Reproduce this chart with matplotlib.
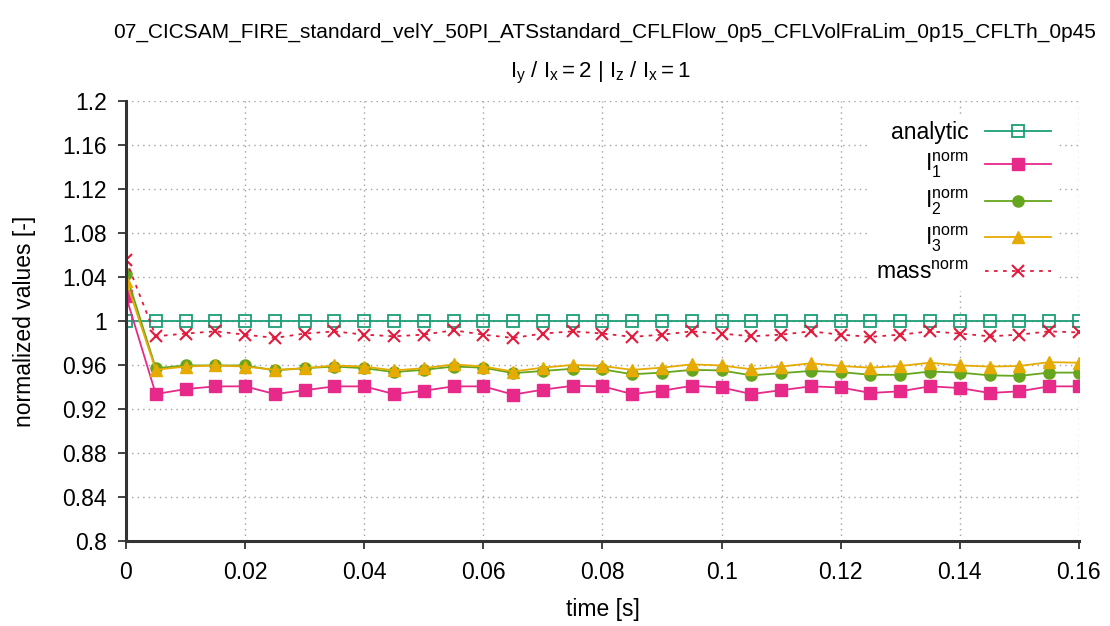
import matplotlib

matplotlib.use("Agg")
import matplotlib.pyplot as plt  # noqa: E402

plt.rcParams.update({
    "font.family": ["Liberation Sans", "DejaVu Sans"],
    "mathtext.fontset": "custom",
    "mathtext.rm": "Liberation Sans",
    "mathtext.it": "Liberation Sans",
    "font.size": 16.5,
})

# time steps 0 .. 0.16 s every 0.005 s
time = [0.000, 0.005, 0.010, 0.015, 0.020, 0.025, 0.030, 0.035, 0.040, 0.045,
        0.050, 0.055, 0.060, 0.065, 0.070, 0.075, 0.080, 0.085, 0.090, 0.095,
        0.100, 0.105, 0.110, 0.115, 0.120, 0.125, 0.130, 0.135, 0.140, 0.145,
        0.150, 0.155, 0.160]
analytic = [1.0] * 33
i1_norm = [1.023, 0.934, 0.9385, 0.941, 0.941, 0.934, 0.9375, 0.941, 0.941, 0.934,
           0.937, 0.941, 0.941, 0.9335, 0.938, 0.9415, 0.941, 0.934, 0.937, 0.9415,
           0.940, 0.934, 0.9375, 0.941, 0.940, 0.935, 0.9365, 0.941, 0.9395, 0.935,
           0.9365, 0.941, 0.941]
i2_norm = [1.0435, 0.9575, 0.960, 0.960, 0.960, 0.9555, 0.9575, 0.959, 0.9575, 0.954,
           0.956, 0.959, 0.958, 0.953, 0.955, 0.957, 0.9565, 0.952, 0.9535, 0.956,
           0.9555, 0.951, 0.953, 0.955, 0.954, 0.9515, 0.9515, 0.9545, 0.9535, 0.951,
           0.9505, 0.9535, 0.9535]
i3_norm = [1.037, 0.956, 0.959, 0.960, 0.959, 0.956, 0.9575, 0.960, 0.959, 0.9555,
           0.9575, 0.961, 0.959, 0.9545, 0.958, 0.9605, 0.9595, 0.956, 0.958, 0.961,
           0.960, 0.9565, 0.959, 0.962, 0.9595, 0.958, 0.9595, 0.9625, 0.960, 0.959,
           0.9595, 0.963, 0.9625]
mass_norm = [1.056, 0.9865, 0.989, 0.991, 0.988, 0.985, 0.989, 0.991, 0.988, 0.9865,
             0.988, 0.992, 0.988, 0.985, 0.989, 0.991, 0.989, 0.986, 0.988, 0.991,
             0.989, 0.9865, 0.988, 0.991, 0.988, 0.986, 0.988, 0.991, 0.989, 0.9865,
             0.988, 0.991, 0.990]

x_ticks = [0, 0.02, 0.04, 0.06, 0.08, 0.1, 0.12, 0.14, 0.16]
x_labels = ["0", "0.02", "0.04", "0.06", "0.08", "0.1", "0.12", "0.14", "0.16"]
y_ticks = [0.8, 0.84, 0.88, 0.92, 0.96, 1.0, 1.04, 1.08, 1.12, 1.16, 1.2]
y_labels = ["0.8", "0.84", "0.88", "0.92", "0.96", "1", "1.04", "1.08", "1.12", "1.16", "1.2"]

TEAL = "#1b9e77"
MAGENTA = "#e7298a"
GREEN = "#66a61e"
YELLOW = "#e6ab02"
RED = "#e41a3c"

fig = plt.figure(figsize=(11.1, 6.26), dpi=100)
ax = fig.add_axes([0.1135, 0.135, 0.8585, 0.703])

ax.plot(time, analytic, color=TEAL, lw=1.3, marker="s", ms=8.5, mfc="none", mew=1.3,
        label="analytic")
ax.plot(time, i1_norm, color=MAGENTA, lw=1.3, marker="s", ms=8.5,
        label=r"$\mathregular{I_1^{norm}}$")
ax.plot(time, i2_norm, color=GREEN, lw=1.3, marker="o", ms=8,
        label=r"$\mathregular{I_2^{norm}}$")
ax.plot(time, i3_norm, color=YELLOW, lw=1.3, marker="^", ms=8,
        label=r"$\mathregular{I_3^{norm}}$")
ax.plot(time, mass_norm, color=RED, lw=1.3, ls=(0, (2, 3)), marker="x", ms=9, mew=1.5,
        label=r"mass$\mathregular{^{norm}}$")

ax.set_xlim(0, 0.16)
ax.set_ylim(0.8, 1.2)
ax.set_xticks(x_ticks, x_labels)
ax.set_yticks(y_ticks, y_labels)
ax.grid(True, color="#a0a0a0", lw=1.0, ls=(0, (1, 3)))
ax.set_axisbelow(True)
for side in ("top", "right"):
    ax.spines[side].set_visible(False)
for side in ("left", "bottom"):
    ax.spines[side].set_color("#333333")
    ax.spines[side].set_linewidth(2.2)
ax.tick_params(direction="out", length=6, width=1.3, color="#333333", pad=8)
ax.set_xlabel("time [s]", labelpad=10)
ax.set_ylabel("normalized values [-]", labelpad=19)

fig.text(0.545, 0.948, "07_CICSAM_FIRE_standard_velY_50PI_ATSstandard_CFLFlow_0p5_"
         "CFLVolFraLim_0p15_CFLTh_0p45", ha="center", va="center", fontsize=15)
fig.text(0.541, 0.884, r"$\mathregular{I_y\ /\ I_x = 2\ |\ I_z\ /\ I_x = 1}$",
         ha="center", va="center", fontsize=16)

leg = ax.legend(loc="upper right", bbox_to_anchor=(0.99, 0.998), markerfirst=False,
                numpoints=1, handlelength=2.9, frameon=True, framealpha=1.0,
                edgecolor="none", fancybox=False, labelspacing=0.32, handletextpad=0.7,
                borderpad=0.3)
# right-align the legend labels, as in the original
for col in leg._legend_handle_box.get_children():
    col.align = "right"

fig.savefig("out.png", dpi=100)
